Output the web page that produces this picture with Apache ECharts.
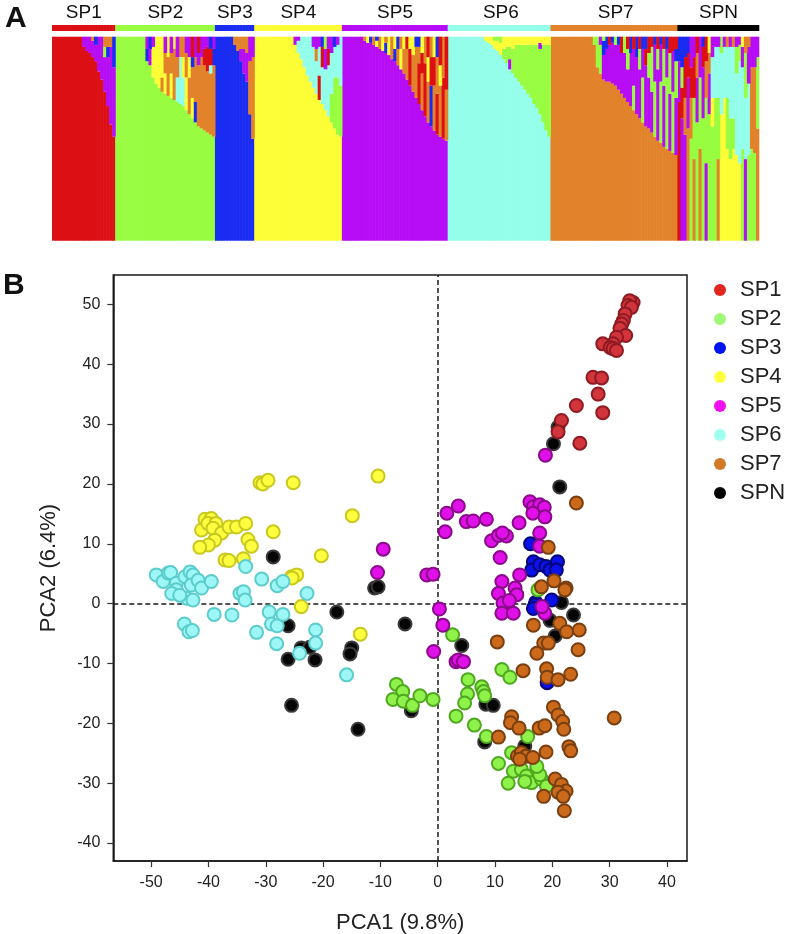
<!DOCTYPE html>
<html>
<head>
<meta charset="utf-8">
<script src="https://cdn.jsdelivr.net/npm/echarts@6/dist/echarts.min.js"></script>
<style>html,body{margin:0;padding:0;background:#fff}#c{width:789px;height:934px}</style>
</head>
<body>
<div id="c"></div>
<script>
// ---------- Panel A: ancestry proportions (bottom segment first) ----------
const groups = ['SP1','SP2','SP3','SP4','SP5','SP6','SP7','SPN'];
const clusterColors = {R:'#dc1014', G:'#98fc40', B:'#1a2cf2', Y:'#fefe36', M:'#b60cf6', C:'#94feea', O:'#e2822a'};
const stripColors = ['#dc1014','#98fc40','#1a2cf2','#fefe36','#b60cf6','#94feea','#e2822a','#000000'];

const qSP1 = ['R100','R100','R100','R100','R100','R100','R100','R100','R100','R100',
  'R95M5','R93M7','R92M8','R90M8O2','R88M8B4','R83M17','R79M21','R73M17G5O5','R66M24B5O5','R57M38O5','R51M34B15'];
const qSP2 = ['G100','G100','G100','G100','G100','G100','G100','G100','G100','G100',
  'G88B6M6','G86M8B6','G80Y15M5','G77Y23','G75Y25','G73O7Y20','G72Y10O10M8','G71O19Y10','G70Y12O10M8','G69O25Y6',
  'G68C12O10M10','G67C23O10','G66C14Y10O10','G64Y16O12M8','G62O18Y10M10','G60Y10O15B5R10','G58B10O22M10','G56O30M6R8',
  'G55O35M10','G54O32R8M6','G53O30R12M5','G52O30C4R8B6','G51O35B8M6'];
const qSP3 = ['B100','B100','B100','B100','B100','B100','B96O4','B93O7','B88M6O6','B82M12O6','B78M14O8','B62O26M12','B50O40M10'];
const qSP4 = ['Y100','Y100','Y100','Y100','Y100','Y100','Y100','Y100','Y100','Y100','Y100','Y100','Y100',
  'Y96M4','Y92C6M2','Y89C11','Y85C15','Y81C19','Y78C22','Y75C20M5','Y72C16O6M6','Y69R12C14M5','Y67C18R10B5',
  'Y64C20M10G6','Y61C25R8M6','Y58G14C20M8','Y55G25C15B5','Y52G28C16M4','Y51G25C24'];
const qSP5 = ['M100','M100','M100','M100','M100','M100','M100',
  'M98O2','M97Y3','M97B3','M96O4','M95Y3B2','M94O6','M93Y7','M92B5O3','M91Y9','M89O11','M88B6Y6','M86O8B6','M84Y10O6',
  'M82O12Y6','M79O15R6','M76R18Y6','M73O18Y9','M70O25B5','M67R20O8B5','M64O18R10Y8','M61R26O13','M58O20Y12R10',
  'M56B20R14O10','M54O22R14Y10','M52R20O18B10','M51O25Y10R14','M50R30O20','M49O25R26'];
const qSP6 = ['C100','C100','C100','C100','C100','C100','C100','C100','C100','C100','C100','C100',
  'C98Y2','C97Y3','C96Y4','C94Y4G2','C93Y5G2','C91Y6G3','C89G5Y6','C87G8Y5','C84M5G6Y5','C82G12Y6','C80G16Y4',
  'C78G18Y4','C76G20Y4','C74G22Y4','C72G24Y4','C70G26Y4','C67G29Y4','C65G31Y4','C62G32M3Y3','C58G38Y4','C54G42Y4','C51G45Y4'];
const qSP7 = ['O100','O100','O100','O100','O100','O100','O100','O100','O100','O100','O100','O100','O100','O100',
  'O96G4','O85G15','O82G14M4','O79M12B7G2','O78M16B6','O78M18R4','O77M20B3','O76M20G4','O74M22B4','O72M20R8','O70M22G8',
  'O68M16G10R6','O66M26B8','O64G12M18R6','O62M28B10','O60M24G10R6','O58G22M14B6','O56M30R8B6','O55M25G12R8','O53M20G22R5',
  'O51G27M18B4','O49M35G10R6','O48G30M18B4','O46M30G18R6','O45G35M14B6','O44M28G20R8','O43G30M20R7','O42M28G18B6R6'];
const qSPN = ['R68M20B12','M60R15G10B15','M52O18R20B10','O55M25R12B8','G50O20R15M15','O40G30R20M10','G58M22O12R8',
  'O45G35M20','G60M25R10B5','M38G32O18R12','G62M20O10Y8','G56Y14C20M10','G70C25M5','O40G30C25M5','Y62C30G8',
  'Y70C25M5','Y45G25C25O5','Y40G20C35M5','Y45G15C35O5','Y42C40G13M5','Y38C50G8M4','G45C40M10Y5','M40C30G22O8',
  'G42C35M18O5','G45O40M15','G43O42M15','O55G35M10'];
const qGroups = [qSP1,qSP2,qSP3,qSP4,qSP5,qSP6,qSP7,qSPN];

// ---------- Panel B: PCA scores ----------
const pcaSP1 = [[34.1,50.3],[33.5,50.6],[33.2,49.8],[33.8,49.5],[32.7,48.4],[32.4,47.3],[32.1,46.7],[31.8,46],[32.8,44.8],
  [31.2,44.5],[30.6,43.4],[28.8,43.4],[30.1,42.8],[30.6,42.6],[31.2,42.3],[27.1,37.8],[28.6,37.7],[28,35],[28.8,31.9],
  [24.2,33.1],[21.6,30.6],[21,28.7],[24.8,26.8]];
const pcaSP2 = [[-7.2,-13.5],[-6.1,-14.7],[-7.8,-16],[-6,-16.3],[-4.4,-17],[-3.1,-15.4],[-0.8,-16],[2.6,-5.2],[3.2,-18.8],
  [5.3,-12.7],[5.2,-15.1],[4.7,-16.6],[6.4,-20.3],[7.7,-13.9],[8,-14.7],[8.2,-15.4],[8.5,-22.2],[11.2,-11],[12.6,-12.3],
  [15.7,-22.2],[12.9,-24.9],[10.6,-26.7],[13.2,-28],[14.6,-27.7],[12.3,-30],[15.5,-28.8],[16.4,-29.9],[17.3,-27.7],
  [18.1,-29.3],[19,-30.5],[15.2,-29.7],[17.8,-28.6],[17.3,-27.2],[17.5,2.3]];
const pcaSP3 = [[16.2,10],[16.7,7],[16.4,5.6],[17.8,6.5],[18.9,6.2],[19.6,5.6],[20.9,7],[20.7,5.6],[17.1,0.2],[19.9,0.6],
  [17,-0.2],[16.7,-0.8],[19.1,-13.2]];
const pcaSP4 = [[-10.4,21.3],[-31,20.2],[-30.5,20],[-29.6,20.6],[-25.2,20.2],[-14.9,14.7],[-28.7,12],[-41.2,12.3],[-40.6,14.1],
  [-39.5,14.2],[-40.1,13.4],[-38.7,13.4],[-39.2,12.6],[-37.7,11.8],[-36.4,12.8],[-35.1,12.8],[-33.5,13.4],[-38.9,10.6],
  [-40,9.8],[-41.5,9.4],[-33.1,10.7],[-32.5,9.6],[-37.1,7.3],[-36.4,7.2],[-33.9,7.5],[-20.3,8],[-25.5,4.5],[-24.6,4.8],
  [-25.4,4.3],[-23.8,-0.5],[-13.5,-5.1]];
const pcaSP5 = [[-9.5,9.1],[-10.5,5.2],[-1.9,4.8],[-0.8,4.9],[1.3,12],[1.6,15.1],[3.6,16.3],[5,13.7],[6.2,13.8],[8.5,14.1],
  [9.4,10.5],[10.6,11.4],[12,11.3],[11.3,11.8],[10.9,7.7],[14.2,13.5],[14.3,4.8],[16.1,17],[16.7,16.2],[17.8,16.5],
  [18.6,16.1],[18.7,14.5],[16.6,15.1],[17.8,11.8],[17.8,9.6],[18.8,24.8],[11.2,3.7],[10.6,1.7],[13.5,2.6],[13.8,1.5],
  [0.3,-0.9],[0.9,-3.6],[-0.7,-8],[3.2,-9.7],[3.6,-9.4],[4.5,-9.7],[11.4,0.1],[11.2,-1.6],[13.2,-1.6],[18.7,-1.6],
  [12.5,0.5],[18.2,-0.5]];
const pcaSP6 = [[-49.1,4.8],[-47.9,3.7],[-47,5.1],[-46.6,5.2],[-45.6,3.4],[-45.6,2.3],[-44.1,4.5],[-43.2,5.3],[-42.7,4.8],
  [-43,3.1],[-41.8,3.9],[-41.2,2.6],[-43.8,0.9],[-42.7,0.6],[-39.5,3.7],[-33.5,6.2],[-34.5,1.7],[-33.9,2],[-33.6,0.6],
  [-30.7,4.1],[-28,3],[-27,3.7],[-22.8,1.7],[-39,-1.8],[-35.9,-1.9],[-44.2,-3.4],[-43.4,-4.7],[-42.8,-4.5],[-31.6,-4.8],
  [-29.4,-1.4],[-29,-3.4],[-28,-3.7],[-27,-1.8],[-28.1,-6.7],[-24.1,-8.3],[-21.3,-4.4],[-21.3,-6.6],[-15.9,-11.9],
  [-46.4,1.7],[-45,1.4]];
const pcaSP7 = [[24.2,16.8],[19.3,9.4],[18.1,2.8],[20.3,3.8],[22.4,2.6],[22.2,2.3],[16.7,-3.6],[21.3,-3.3],[22.5,-4.7],
  [24.7,-4.4],[10.4,-6.4],[18.5,-6.6],[19.3,-6.6],[17.3,-8.3],[24.5,-7.7],[14.9,-11.2],[19,-10.9],[19.1,-12.3],[21,-12.7],
  [23.2,-11.8],[20.2,-17.3],[21,-18.6],[21.8,-19.7],[22,-21],[30.8,-19.1],[12.9,-18.9],[12.7,-19.9],[14.2,-20.8],
  [17.7,-20.8],[18.7,-20.4],[10.6,-22.3],[22.9,-23.9],[23.2,-24.6],[18.9,-24.8],[13.9,-25.5],[14.6,-24.9],[15.4,-25.5],
  [16.6,-25.7],[14.3,-26],[20.5,-29.3],[21.6,-30.2],[22.4,-31.3],[21,-31.5],[21.9,-32.2],[18.5,-32.2],[22.1,-34.6]];
const pcaSPN = [[21,29.5],[20.2,26.7],[21.3,19.5],[-28.7,7.8],[-11,2.6],[-10.4,2.8],[-17.6,-1.4],[-26.1,-3.7],[-5.7,-3.4],
  [-23.8,-7.4],[-22.3,-7.3],[-15,-7.4],[-15.3,-8.4],[-26.1,-9.3],[-21.4,-9.4],[-25.5,-17],[-13.9,-21],[-4.6,-17.9],
  [4.2,-7],[8.4,-16.8],[9.7,-17],[8.2,-23.1],[15.2,-23.8],[21.6,0.2],[23.7,-1.9],[19.6,-2.8],[20.5,-5.4]];
const pcaGroups = [pcaSP1,pcaSP2,pcaSP3,pcaSP4,pcaSP5,pcaSP6,pcaSP7,pcaSPN];

const pointFill   = ['#d2343c','#8ef24a','#0a12e8','#ffff40','#e010e8','#9ef7f7','#cc6a1c','#050505'];
const pointBorder = ['#8e1a22','#4fa81e','#06067a','#c8c81e','#8a0a8a','#5ccccc','#7a3f10','#3a3a3a'];
const legendColors = ['#e0261e','#a0f878','#0014f0','#ffff40','#ee10ee','#a0fff0','#d07a28','#000000'];
const xTicks = [-50,-40,-30,-20,-10,0,10,20,30,40];
const yTicks = [-40,-30,-20,-10,0,10,20,30,40,50];

// ---------- build ----------
const FONT = "'Liberation Sans', Arial, Helvetica, sans-serif";
function parseQ(s){
  const out=[]; const re=/([A-Z])(\d+)/g; let m;
  while((m=re.exec(s))){ out.push({k:m[1], v:+m[2]}); }
  const tot=out.reduce((a,b)=>a+b.v,0);
  out.forEach(o=>o.v=o.v*100/tot);
  return out;
}
const indiv=[], indGroup=[], profiles=[];
qGroups.forEach((arr,gi)=>arr.forEach((s,j)=>{ indiv.push(groups[gi]+'_'+j); indGroup.push(gi); profiles.push(parseQ(s)); }));
const nLayers = Math.max(...profiles.map(p=>p.length));
const BAR_W = 3.6; // slightly wider than one category band so neighbouring bars overlap (no seams)
const barSeries=[];
for(let k=0;k<nLayers;k++){
  barSeries.push({
    type:'bar', xAxisIndex:0, yAxisIndex:0, stack:'q', barWidth:BAR_W, silent:true, animation:false,
    data: profiles.map(p=> p[k] ? {value:p[k].v, itemStyle:{color:clusterColors[p[k].k]}} : '-')
  });
}
// group strip with labels at the middle individual of each group
const midIndex = {};
let offs=0; qGroups.forEach((arr,gi)=>{ midIndex[offs+Math.floor(arr.length/2)] = gi; offs+=arr.length; });
const stripSeries = {
  type:'bar', xAxisIndex:1, yAxisIndex:1, barWidth:BAR_W, silent:true, animation:false,
  data: indGroup.map((gi,i)=>{
    const c=stripColors[gi];
    const d={value:1, itemStyle:{color:c}};
    if(midIndex[i]!==undefined){ d.label={show:true, position:'top', distance:3, formatter:groups[gi], fontSize:19, color:'#111', fontFamily:FONT}; }
    return d;
  })
};
const drawOrder=[7,2,1,3,5,4,6,0];
const scatterSeries = drawOrder.map((gi,idx)=>{
  const s={
    type:'scatter', name:groups[gi], xAxisIndex:2, yAxisIndex:2, symbol:'circle', symbolSize:13, animation:false,
    itemStyle:{color:pointFill[gi], borderColor:pointBorder[gi], borderWidth:2, opacity:1},
    data: pcaGroups[gi]
  };
  if(idx===0){
    s.markLine={silent:true, symbol:'none', z:1, label:{show:false}, animation:false,
      lineStyle:{type:[5,3], color:'#1a1a1a', width:1.5},
      data:[{xAxis:0},{yAxis:0}]};
  }
  return s;
});

const chart = echarts.init(document.getElementById('c'), null, {renderer:'canvas'});
chart.setOption({
  backgroundColor:'#fff',
  animation:false,
  textStyle:{fontFamily:FONT},
  title:[
    {text:'A', left:5, top:4, padding:0, textStyle:{fontSize:30, fontWeight:'bold', color:'#111', fontFamily:FONT}},
    {text:'B', left:3, top:271, padding:0, textStyle:{fontSize:30, fontWeight:'bold', color:'#111', fontFamily:FONT}}
  ],
  grid:[
    {left:52, top:36.7, width:707.3, height:204, outerBoundsMode:'none'},
    {left:52, top:25, width:707.3, height:6, outerBoundsMode:'none'},
    {left:113.3, top:275, width:573.7, height:586, outerBoundsMode:'none', containLabel:false,
      show:true, borderColor:'#1a1a1a', borderWidth:1.5, backgroundColor:'transparent'}
  ],
  xAxis:[
    {type:'category', gridIndex:0, data:indiv, show:false},
    {type:'category', gridIndex:1, data:indiv, show:false},
    {type:'value', gridIndex:2, min:-56.6, max:43.5, position:'bottom',
      axisLine:{show:true, onZero:false, lineStyle:{color:'#1a1a1a', width:1.5}}, splitLine:{show:false},
      axisTick:{show:true, length:6, customValues:xTicks, lineStyle:{color:'#333', width:1.2}},
      axisLabel:{customValues:xTicks, fontSize:16, color:'#222', margin:14, fontFamily:FONT},
      name:'PCA1 (9.8%)', nameLocation:'middle', nameGap:51, nameTextStyle:{fontSize:22, color:'#222', fontFamily:FONT}}
  ],
  yAxis:[
    {type:'value', gridIndex:0, min:0, max:100, show:false},
    {type:'value', gridIndex:1, min:0, max:1, show:false},
    {type:'value', gridIndex:2, min:-43.0, max:54.9, position:'left',
      axisLine:{show:true, onZero:false, lineStyle:{color:'#1a1a1a', width:1.5}}, splitLine:{show:false},
      axisTick:{show:true, length:6, customValues:yTicks, lineStyle:{color:'#333', width:1.2}},
      axisLabel:{customValues:yTicks, fontSize:16, color:'#222', margin:13, fontFamily:FONT},
      name:'PCA2 (6.4%)', nameLocation:'middle', nameGap:53, nameTextStyle:{fontSize:22, color:'#222', fontFamily:FONT}}
  ],
  legend:{
    orient:'vertical', left:709, top:274, itemWidth:12, itemHeight:12, itemGap:7,
    textStyle:{fontSize:22, color:'#222', fontFamily:FONT, padding:[0,0,0,9]},
    data: groups.map((g,i)=>({name:g, icon:'circle', itemStyle:{color:legendColors[i], borderWidth:0}}))
  },
  series:[...barSeries, stripSeries, ...scatterSeries]
});
</script>
</body>
</html>
